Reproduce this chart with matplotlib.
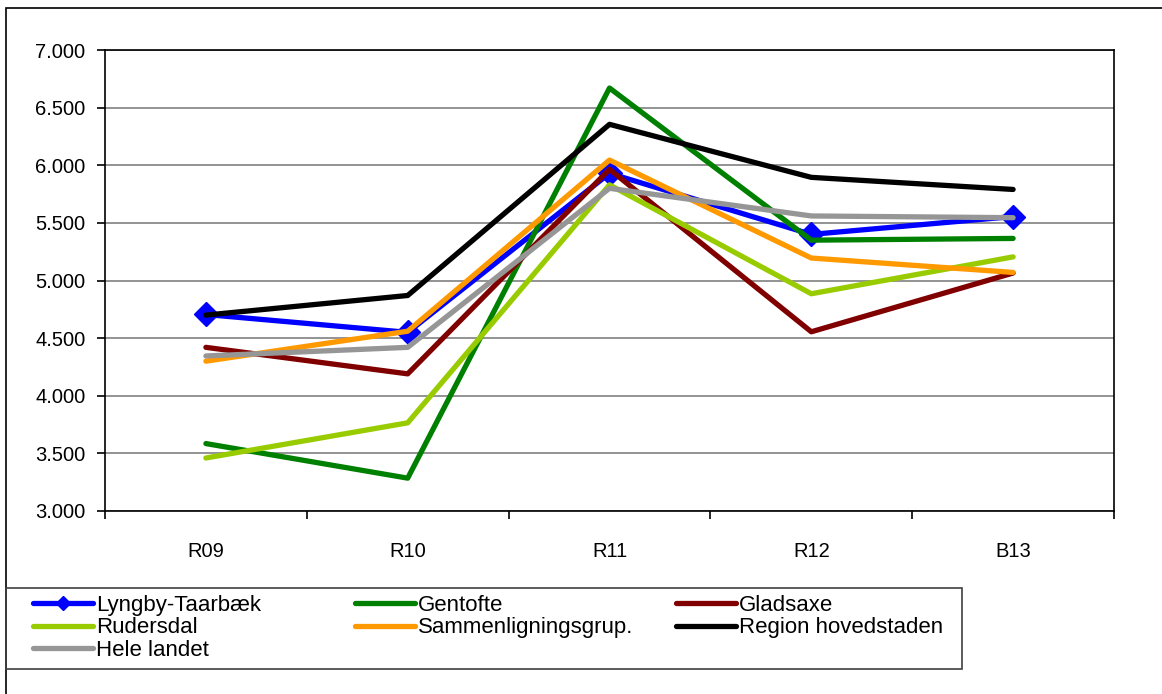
import matplotlib
matplotlib.use("Agg")
import matplotlib.pyplot as plt
from matplotlib.patches import Rectangle
from matplotlib.ticker import FuncFormatter, FixedLocator

plt.rcParams['font.family'] = ['Liberation Sans', 'DejaVu Sans']

years = ["R09", "R10", "R11", "R12", "B13"]

lyngby = [4705, 4550, 5930, 5400, 5555]
gentofte = [3585, 3285, 6670, 5350, 5365]
gladsaxe = [4420, 4190, 5965, 4555, 5065]
rudersdal = [3460, 3765, 5830, 4885, 5205]
sammenlign = [4300, 4560, 6045, 5195, 5070]
region = [4700, 4870, 6355, 5895, 5790]
hele_landet = [4345, 4420, 5800, 5560, 5545]

series_names = ["Lyngby-Taarbæk", "Gentofte", "Gladsaxe", "Rudersdal",
                "Sammenligningsgrup.", "Region hovedstaden", "Hele landet"]
series_values = [lyngby, gentofte, gladsaxe, rudersdal, sammenlign, region, hele_landet]
colors = ["#0000FF", "#008000", "#800000", "#99CC00", "#FF9900", "#000000", "#969696"]

W, H = 1162, 694
fig = plt.figure(figsize=(W / 100, H / 100), dpi=100)
ax = fig.add_axes([105 / W, 1 - 511 / H, (1114 - 105) / W, (511 - 50) / H])

x = list(range(len(years)))
handles = []
for i, (name, vals, c) in enumerate(zip(series_names, series_values, colors)):
    if i == 0:
        h, = ax.plot(x, vals, color=c, lw=3.8, marker='D', markersize=12.5,
                     markeredgecolor=c, label=name, solid_capstyle='round')
    else:
        h, = ax.plot(x, vals, color=c, lw=3.8, label=name, solid_capstyle='round')
    handles.append(h)

ax.set_xlim(-0.5, len(years) - 0.5)
ax.set_ylim(3000, 7000)
ax.set_yticks(range(3000, 7001, 500))
ax.yaxis.set_major_formatter(FuncFormatter(lambda v, p: f"{v:,.0f}".replace(",", ".")))
ax.yaxis.grid(True, color='#808080', lw=1.2)
ax.set_axisbelow(True)

ax.set_xticks(x)
ax.set_xticklabels(years)
ax.xaxis.set_minor_locator(FixedLocator([i - 0.5 for i in range(len(years) + 1)]))
ax.tick_params(axis='x', which='major', length=0, pad=22, labelsize=14.5)
ax.tick_params(axis='x', which='minor', length=6, width=1.2, direction='out')
ax.tick_params(axis='y', length=6, width=1.2, direction='out', pad=8, labelsize=14.5)
for s in ax.spines.values():
    s.set_color('black')
    s.set_linewidth(1.2)

# outer chart frame
fig.add_artist(Rectangle((6 / W, -0.1), 1.1, 1.1 - 8 / H, transform=fig.transFigure,
                         fill=False, edgecolor='black', lw=1.2))
# legend box
fig.add_artist(Rectangle((6 / W, 1 - 669 / H), 956 / W, 81 / H, transform=fig.transFigure,
                         fill=False, edgecolor='#404040', lw=1.2))

columns = [[0, 3, 6], [1, 4], [2, 5]]
col_x = [33, 355, 676]
fs = 16
for cols, cx in zip(columns, col_x):
    fig.legend([handles[i] for i in cols], [series_names[i] for i in cols],
               loc='upper left', bbox_to_anchor=(cx / W, 1 - 595 / H),
               frameon=False, borderpad=0, borderaxespad=0,
               handlelength=60 / (fs * 100 / 72), handletextpad=0.15,
               labelspacing=0.06, fontsize=fs, markerscale=0.6)

fig.savefig("out.png", dpi=100)
